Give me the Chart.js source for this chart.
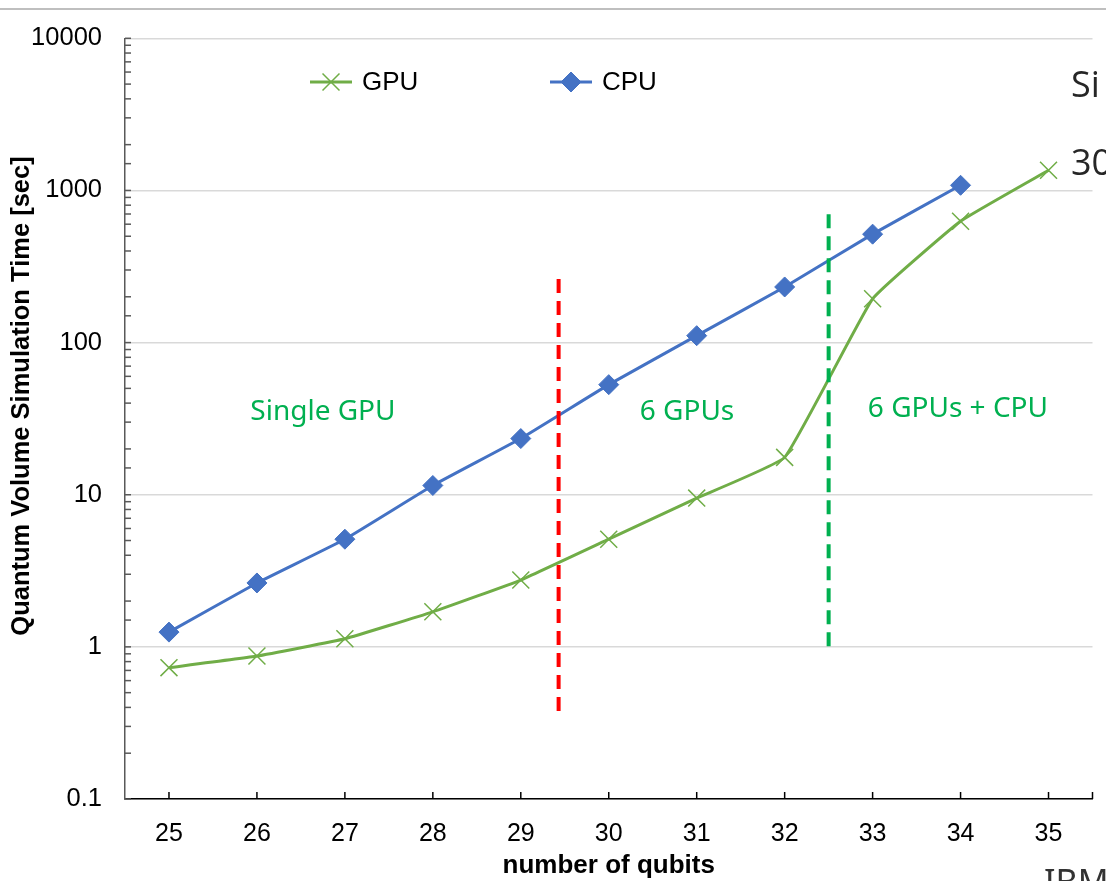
<!DOCTYPE html>
<html>
<head>
<meta charset="utf-8">
<script src="https://cdn.jsdelivr.net/npm/chart.js@4.4.0/dist/chart.umd.min.js"></script>
<style>
html, body { margin: 0; padding: 0; background: #fff; }
#wrap { width: 1106px; height: 881px; position: relative; }
</style>
</head>
<body>
<div id="wrap"><canvas id="grafico" width="1106" height="881"></canvas></div>
<script>
// Dados
var qubits = ['25', '26', '27', '28', '29', '30', '31', '32', '33', '34', '35'];
var gpuTimes = [0.73, 0.87, 1.13, 1.70, 2.75, 5.1, 9.5, 17.6, 194, 628, 1357];
var cpuTimes = [1.25, 2.63, 5.1, 11.5, 23.4, 52.9, 111, 232, 516, 1081, null];
var yTickLabels = [0.1, 1, 10, 100, 1000, 10000];

// linhas tracejadas (posicao em qubits, extensao em segundos)
var dividerAt = [29.43, 32.5];
var dividerFrom = [0.36, 0.955];
var dividerTo = [262, 698];
var dividerColors = ['#ff0000', '#00b050'];

// rotulos das regioes
var regionTexts = ['Single GPU', '6 GPUs', '6 GPUs + CPU'];
var regionAt = [26.75, 30.89, 33.97];
var regionY = [34.7, 34.7, 36.8];

var isMajor = function(v) {
    var l = Math.log10(v);
    return Math.abs(l - Math.round(l)) < 1e-6;
};

var fontFamily = "Arial, 'Liberation Sans', sans-serif";

// plugin de decoracao: legenda interna, marcas, linhas e textos
var decoPlugin = {
    id: 'deco',
    beforeDraw: function(chart) {
        var ctx = chart.ctx;
        ctx.save();
        ctx.fillStyle = '#fff';
        ctx.fillRect(0, 0, chart.width, chart.height);
        ctx.strokeStyle = '#bfbfbf';
        ctx.lineWidth = 2;
        ctx.beginPath();
        ctx.moveTo(0, 9);
        ctx.lineTo(chart.width, 9);
        ctx.stroke();
        ctx.restore();
    },
    afterDraw: function(chart) {
        var ctx = chart.ctx;
        var x = chart.scales.x;
        var y = chart.scales.y;
        var area = chart.chartArea;
        ctx.save();

        // marcas internas eixo y
        ctx.strokeStyle = '#595959';
        ctx.lineWidth = 1.5;
        y.ticks.forEach(function(t) {
            var py = y.getPixelForValue(t.value);
            ctx.beginPath();
            ctx.moveTo(area.left, py);
            ctx.lineTo(area.left + 6, py);
            ctx.stroke();
        });
        // marcas internas eixo x
        ctx.strokeStyle = '#000';
        for (var i = 0; i < qubits.length; i++) {
            var px = x.getPixelForValue(i);
            ctx.beginPath();
            ctx.moveTo(px, area.bottom);
            ctx.lineTo(px, area.bottom - 7);
            ctx.stroke();
        }
        ctx.beginPath();
        ctx.moveTo(area.right, area.bottom);
        ctx.lineTo(area.right, area.bottom - 7);
        ctx.stroke();

        // linhas tracejadas
        ctx.lineWidth = 4;
        ctx.setLineDash([14, 8]);
        for (var d = 0; d < dividerAt.length; d++) {
            var dx = x.getPixelForValue(dividerAt[d] - 25);
            ctx.strokeStyle = dividerColors[d];
            ctx.beginPath();
            ctx.moveTo(dx, y.getPixelForValue(dividerTo[d]));
            ctx.lineTo(dx, y.getPixelForValue(dividerFrom[d]));
            ctx.stroke();
        }
        ctx.setLineDash([]);

        // textos das regioes
        ctx.fillStyle = '#00b050';
        ctx.font = "28px 'Comic Sans MS', 'Noto Sans', sans-serif";
        ctx.textAlign = 'center';
        ctx.textBaseline = 'middle';
        for (var r = 0; r < regionTexts.length; r++) {
            ctx.fillText(regionTexts[r], x.getPixelForValue(regionAt[r] - 25), y.getPixelForValue(regionY[r]));
        }

        // legenda dentro da area
        var lx = 310;
        var ly = 82;
        ctx.font = '26px ' + fontFamily;
        ctx.textAlign = 'left';
        chart.data.datasets.forEach(function(ds) {
            ctx.strokeStyle = ds.borderColor;
            ctx.fillStyle = ds.backgroundColor;
            ctx.lineWidth = ds.borderWidth;
            ctx.beginPath();
            ctx.moveTo(lx, ly);
            ctx.lineTo(lx + 42, ly);
            ctx.stroke();
            ctx.lineWidth = ds.pointBorderWidth;
            Chart.helpers.drawPoint(ctx, {
                pointStyle: ds.pointStyle,
                radius: ds.pointRadius,
                borderWidth: ds.pointBorderWidth
            }, lx + 21, ly);
            ctx.fillStyle = '#000';
            ctx.fillText(ds.label, lx + 52, ly + 1);
            lx += 240;
        });

        // titulos dos eixos
        ctx.fillStyle = '#000';
        ctx.font = 'bold 26px ' + fontFamily;
        ctx.textAlign = 'center';
        ctx.fillText('number of qubits', (area.left + area.right) / 2, 866);
        ctx.save();
        ctx.translate(22, 396);
        ctx.rotate(-Math.PI / 2);
        ctx.font = 'bold 25.5px ' + fontFamily;
        ctx.fillText('Quantum Volume Simulation Time [sec]', 0, 0);
        ctx.restore();

        // pedacos do slide ao lado
        ctx.fillStyle = '#262626';
        ctx.textAlign = 'left';
        ctx.textBaseline = 'alphabetic';
        ctx.font = "36px 'Open Sans', 'Noto Sans', sans-serif";
        ctx.fillText('Si', 1071, 97);
        ctx.fillText('30', 1071, 175);
        ctx.fillStyle = '#333';
        ctx.font = "34px 'Noto Sans', sans-serif";
        ctx.fillText('IBM', 1044, 894);

        ctx.restore();
    }
};

var createChart = function() {
    var context = document.getElementById('grafico').getContext('2d');
    var chart = new Chart(context, {
        type: 'line',
        data: {
            labels: qubits,
            datasets: [{
                label: 'GPU',
                data: gpuTimes,
                borderColor: '#70ad47',
                backgroundColor: '#70ad47',
                borderWidth: 3,
                pointStyle: 'crossRot',
                pointRadius: 12,
                pointBorderWidth: 1.5,
                pointBorderColor: '#70ad47',
                tension: 0.1
            }, {
                label: 'CPU',
                data: cpuTimes,
                borderColor: '#4472c4',
                backgroundColor: '#4472c4',
                borderWidth: 3,
                pointStyle: 'rectRot',
                pointRadius: 10,
                pointBorderWidth: 1,
                pointBorderColor: '#4472c4',
                tension: 0.1
            }]
        },
        options: {
            responsive: false,
            devicePixelRatio: 1,
            animation: false,
            layout: { padding: { top: 32, right: 13, left: 0, bottom: 0 } },
            plugins: {
                legend: { display: false },
                title: { display: false },
                tooltip: { enabled: false }
            },
            scales: {
                x: {
                    type: 'category',
                    offset: true,
                    grid: { display: false, drawTicks: false },
                    border: { display: true, color: '#000', width: 1.5 },
                    ticks: {
                        color: '#000',
                        padding: 20,
                        maxRotation: 0,
                        font: { size: 25, family: fontFamily }
                    },
                    afterFit: function(scale) { scale.height = 82; }
                },
                y: {
                    type: 'logarithmic',
                    min: 0.1,
                    max: 10000,
                    grid: {
                        drawTicks: false,
                        lineWidth: 1.5,
                        color: function(c) {
                            return (c.tick && isMajor(c.tick.value)) ? '#d9d9d9' : 'rgba(0,0,0,0)';
                        }
                    },
                    border: { display: true, color: '#595959', width: 1.5 },
                    ticks: {
                        color: '#000',
                        padding: 23,
                        autoSkip: false,
                        font: { size: 25.5, family: fontFamily },
                        callback: function(v) {
                            for (var i = 0; i < yTickLabels.length; i++) {
                                if (Math.abs(v - yTickLabels[i]) < yTickLabels[i] * 1e-6) {
                                    return String(yTickLabels[i]);
                                }
                            }
                            return '';
                        }
                    },
                    afterFit: function(scale) { scale.width = 125; }
                }
            }
        },
        plugins: [decoPlugin]
    });
    return chart;
};

createChart();
</script>
</body>
</html>
